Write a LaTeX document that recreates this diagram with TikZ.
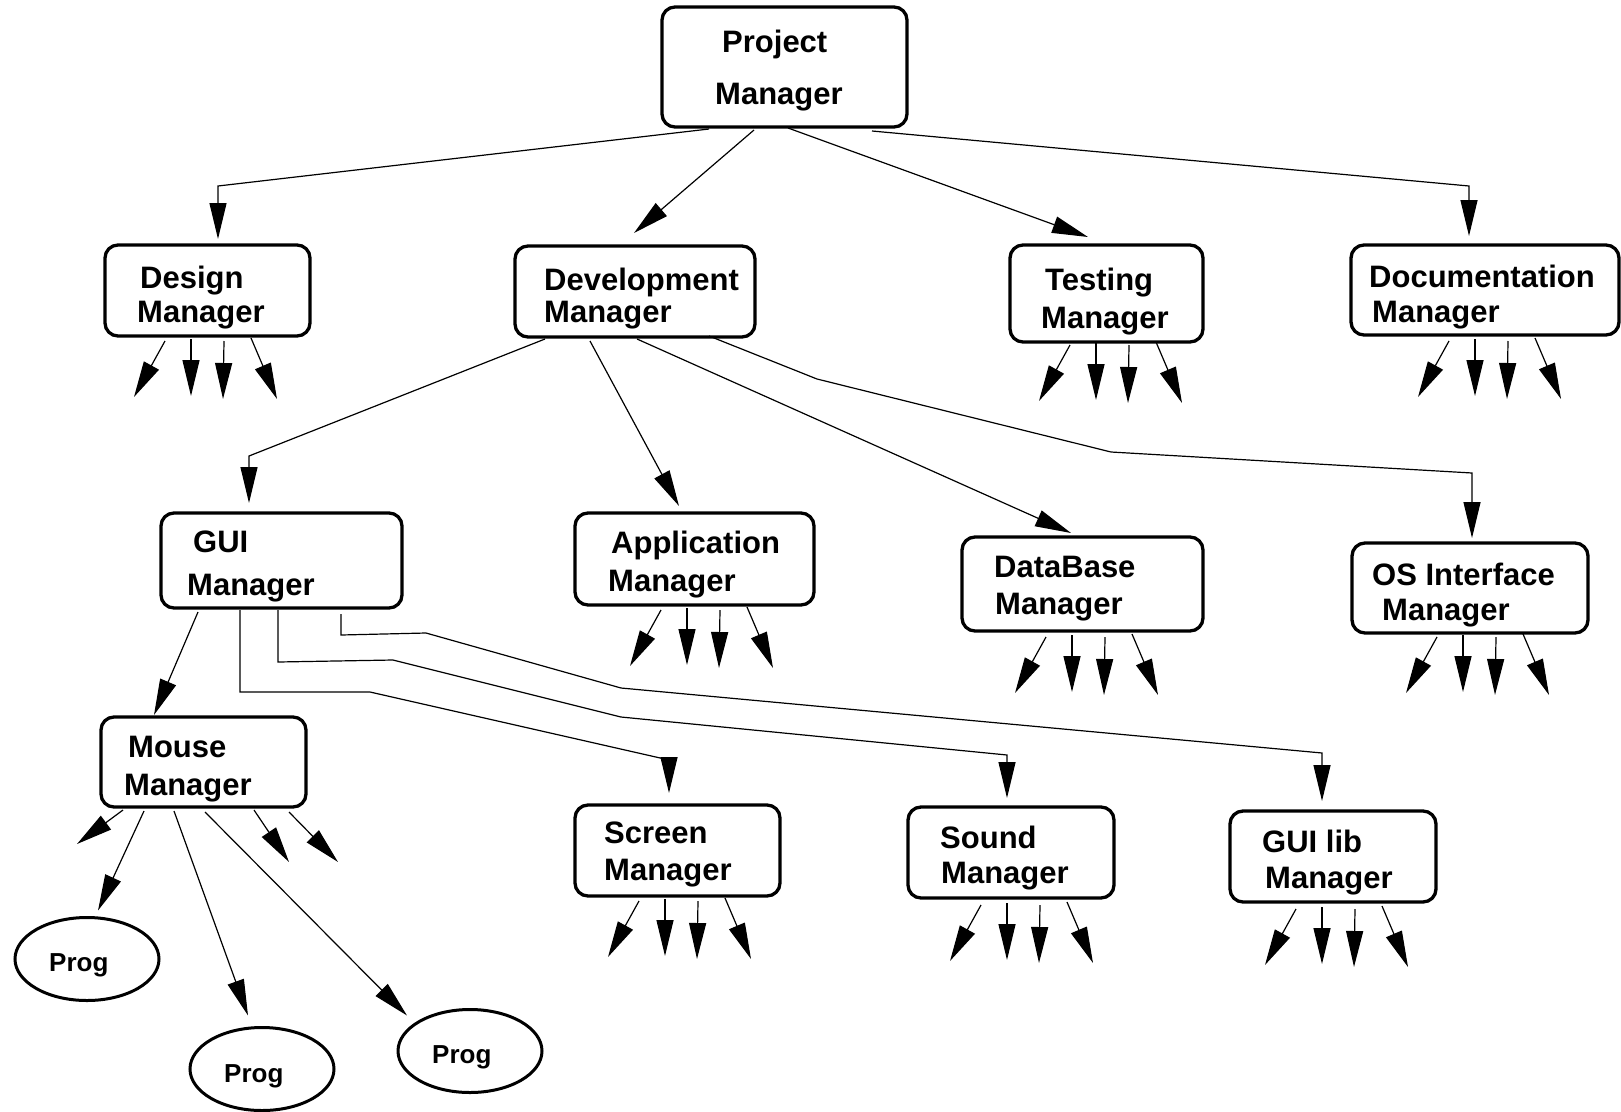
\documentclass[tikz,border=0pt]{standalone}
\usepackage{fontspec}
\setmainfont{Liberation Sans}
\usetikzlibrary{arrows.meta,shapes.geometric}
\tikzset{
  mgr/.style={draw, line width=3.3pt, rounded corners=13pt, inner sep=0pt, outer sep=0pt},
  prog/.style={draw, ellipse, line width=3pt, inner sep=0pt, outer sep=0pt, minimum width=144pt, minimum height=83pt},
  lbl/.style={anchor=base west, inner sep=0pt, font=\bfseries\fontsize{31}{36}\selectfont},
  plbl/.style={anchor=base west, inner sep=0pt, font=\bfseries\fontsize{26}{30}\selectfont},
  conn/.style={line width=1.2pt, -{Triangle[length=36pt,width=17pt]}}
}
\newcommand\mgrbox[5]{\node[mgr, minimum width={(#4-#2)*1pt}, minimum height={(#5-#3)*1pt}] (#1) at ({(#2+#4)/2},{(#3+#5)/2}) {};}
\newcommand\fanout[3]{%
  \coordinate (#1-f1) at ([shift={(#2-57,#3+58)}]#1.south west);
  \coordinate (#1-f2) at ([shift={(#2,#3+57)}]#1.south west);
  \coordinate (#1-f3) at ([shift={(#2+32,#3+60)}]#1.south west);
  \coordinate (#1-f4) at ([shift={(#2+86,#3+60)}]#1.south west);
  \draw[conn] ([shift={(#2-26,#3+2)}]#1.south west) -- (#1-f1);
  \draw[conn] ([shift={(#2,#3)}]#1.south west) -- (#1-f2);
  \draw[conn] ([shift={(#2+33,#3+2)}]#1.south west) -- (#1-f3);
  \draw[conn] ([shift={(#2+60,#3-1)}]#1.south west) -- (#1-f4);
}
\begin{document}
\begin{tikzpicture}[x=1pt,y=-1pt]
\useasboundingbox (0,0) rectangle (1621,1111);
% boxes
\mgrbox{pm}{662}{7}{907}{127}
\mgrbox{design}{105}{245}{310}{336}
\mgrbox{dev}{515}{246}{755}{337}
\mgrbox{test}{1010}{245}{1203}{342}
\mgrbox{doc}{1351}{245}{1619}{335}
\mgrbox{gui}{161}{513}{402}{608}
\mgrbox{app}{575}{513}{814}{605}
\mgrbox{db}{962}{537}{1203}{631}
\mgrbox{os}{1352}{543}{1588}{633}
\mgrbox{mouse}{101}{717}{306}{807}
\mgrbox{screen}{575}{805}{780}{896}
\mgrbox{sound}{908}{807}{1114}{898}
\mgrbox{guilib}{1230}{811}{1436}{902}
% ellipses
\node[prog] (prog1) at (87,959) {};
\node[prog] (prog2) at (262,1069) {};
\node[prog] (prog3) at (470,1051) {};
% labels
\node[lbl] (pm-a) at (722,52) {Project};
\node[lbl] (pm-b) at (715,104) {Manager};
\node[lbl] (design-a) at (140,288) {Design};
\node[lbl] (design-b) at (137,322) {Manager};
\node[lbl] (dev-a) at (544,290) {Development};
\node[lbl] (dev-b) at (544,322) {Manager};
\node[lbl] (test-a) at (1045,290) {Testing};
\node[lbl] (test-b) at (1041,328) {Manager};
\node[lbl] (doc-a) at (1369,287) {Documentation};
\node[lbl] (doc-b) at (1372,322) {Manager};
\node[lbl] (gui-a) at (193,552) {GUI};
\node[lbl] (gui-b) at (187,595) {Manager};
\node[lbl] (app-a) at (611,553) {Application};
\node[lbl] (app-b) at (608,591) {Manager};
\node[lbl] (db-a) at (994,577) {DataBase};
\node[lbl] (db-b) at (995,614) {Manager};
\node[lbl] (os-a) at (1372,585) {OS Interface};
\node[lbl] (os-b) at (1382,620) {Manager};
\node[lbl] (mouse-a) at (128,757) {Mouse};
\node[lbl] (mouse-b) at (124,795) {Manager};
\node[lbl] (screen-a) at (604,843) {Screen};
\node[lbl] (screen-b) at (604,880) {Manager};
\node[lbl] (sound-a) at (940,848) {Sound};
\node[lbl] (sound-b) at (941,883) {Manager};
\node[lbl] (guilib-a) at (1262,852) {GUI lib};
\node[lbl] (guilib-b) at (1265,888) {Manager};
\node[plbl] (prog1-t) at (49,971) {Prog};
\node[plbl] (prog2-t) at (224,1082) {Prog};
\node[plbl] (prog3-t) at (432,1063) {Prog};
% project manager connectors
\draw[conn] ([shift={(47,2)}]pm.south west) -- (218,186) -- ([shift={(113,-6)}]design.north west);
\draw[conn] ([shift={(92,3)}]pm.south west) -- ([shift={(119,-13)}]dev.north west);
\draw[conn] ([shift={(126,1)}]pm.south west) -- ([shift={(78,-8)}]test.north west);
\draw[conn] ([shift={(210,4)}]pm.south west) -- (1469,186) -- ([shift={(118,-9)}]doc.north west);
% development manager connectors
\draw[conn] ([shift={(30,2)}]dev.south west) -- (249,456) -- ([shift={(88,-10)}]gui.north west);
\draw[conn] ([shift={(75,4)}]dev.south west) -- ([shift={(104,-7)}]app.north west);
\draw[conn] ([shift={(122,2)}]dev.south west) -- ([shift={(109,-4)}]db.north west);
\draw[conn] ([shift={(194,-1)}]dev.south west) -- (817,379) -- (1111,452) -- (1472,473) -- ([shift={(120,-5)}]os.north west);
% gui manager connectors
\draw[conn] ([shift={(37,4)}]gui.south west) -- ([shift={(53,-2)}]mouse.north west);
\draw[conn] ([shift={(79,2)}]gui.south west) -- (240,692) -- (370,692) -- (669,760) -- ([shift={(94,-12)}]screen.north west);
\draw[conn] ([shift={(117,2)}]gui.south west) -- (278,662) -- (393,660) -- (621,717) -- (1007,755) -- ([shift={(99,-9)}]sound.north west);
\draw[conn] ([shift={(180,6)}]gui.south west) -- (341,635) -- (426,633) -- (621,688) -- (1322,753) -- ([shift={(92,-10)}]guilib.north west);
% mouse manager connectors
\coordinate (mouse-f1) at (77,844);
\coordinate (mouse-f5) at (289,862);
\coordinate (mouse-f6) at (338,862);
\draw[conn] ([shift={(22,3)}]mouse.south west) -- (mouse-f1);
\draw[conn] ([shift={(43,4)}]mouse.south west) -- ([shift={(11,-7)}]prog1.north);
\draw[conn] ([shift={(73,4)}]mouse.south west) -- ([shift={(-14,-12)}]prog2.north);
\draw[conn] ([shift={(104,5)}]mouse.south west) -- ([shift={(-63,6)}]prog3.north);
\draw[conn] ([shift={(153,3)}]mouse.south west) -- (mouse-f5);
\draw[conn] ([shift={(188,5)}]mouse.south west) -- (mouse-f6);
% fan-outs
\fanout{design}{86}{3}
\fanout{test}{86}{1}
\fanout{doc}{124}{4}
\fanout{app}{112}{3}
\fanout{db}{110}{4}
\fanout{os}{111}{2}
\fanout{screen}{90}{3}
\fanout{sound}{99}{5}
\fanout{guilib}{92}{5}
\end{tikzpicture}
\end{document}
